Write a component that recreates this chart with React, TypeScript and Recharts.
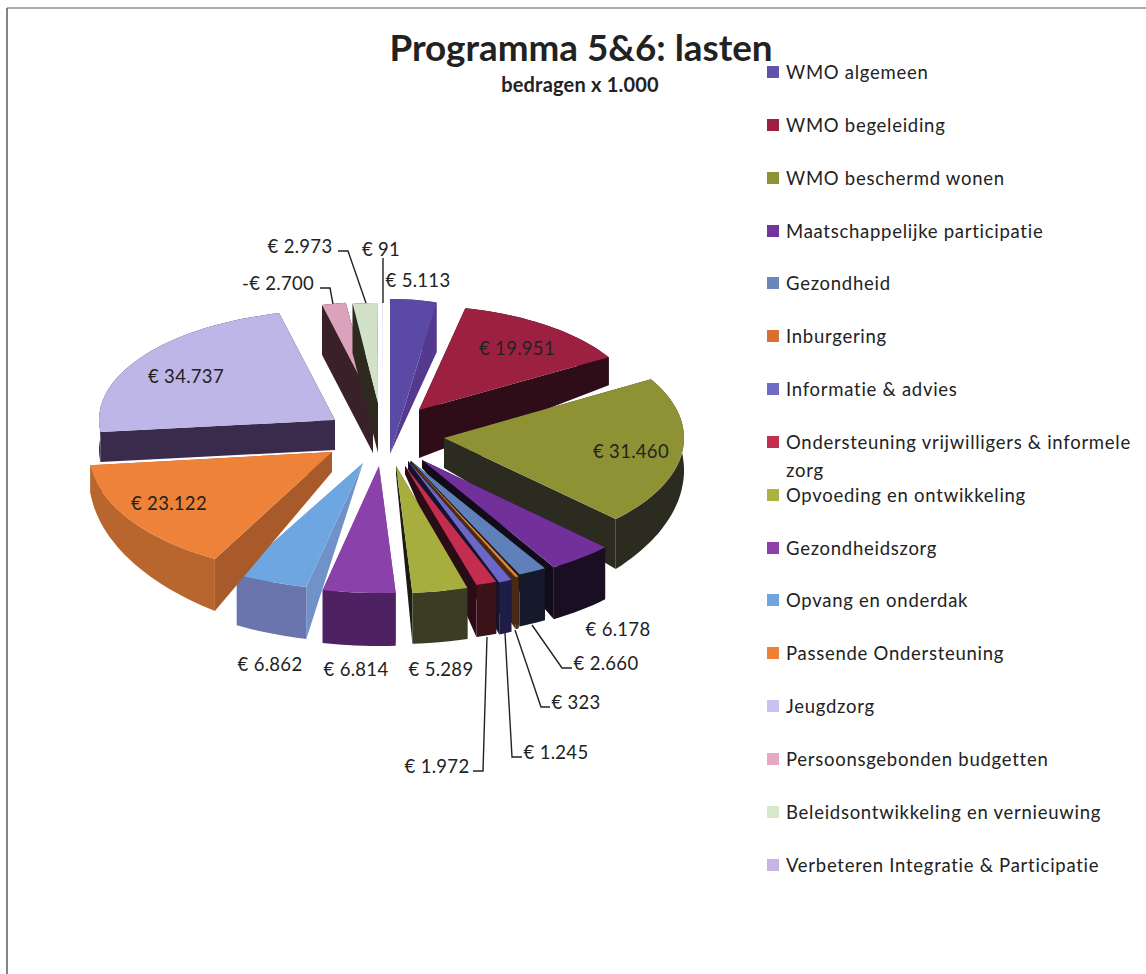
import React from 'react';
import { PieChart, Pie, Cell, Legend } from 'recharts';

const categories = [
  'WMO algemeen', 'WMO begeleiding', 'WMO beschermd wonen', 'Maatschappelijke participatie',
  'Gezondheid', 'Inburgering', 'Informatie & advies', 'Ondersteuning vrijwilligers & informele zorg',
  'Opvoeding en ontwikkeling', 'Gezondheidszorg', 'Opvang en onderdak', 'Passende Ondersteuning',
  'Jeugdzorg', 'Persoonsgebonden budgetten', 'Beleidsontwikkeling en vernieuwing',
  'Verbeteren Integratie & Participatie',
];
const amounts = [5113, 19951, 31460, 6178, 2660, 323, 1245, 1972, 5289, 6814, 6862, 23122, 34737, -2700, 2973, 91];

const topColors = ['#5a4aa6', '#9c2040', '#8f9234', '#71309a', '#5f80b8', '#e08030', '#6b66c8', '#c42c50', '#a8ae3e', '#8a42aa', '#6ea6e2', '#ee8238', '#bfb6e8', '#dca2bc', '#d2e2c8', '#e4dcf2'];
const wallColors = ['#54398f', '#2e0d18', '#2c2b20', '#1a0f22', '#141a2b', '#4a2a14', '#1f1d47', '#3a1218', '#3c3c24', '#4e2163', '#6a74ad', '#b8652e', '#3a2a4c', '#3a2028', '#2f2a20', '#cfc6e2'];
const sideColors = ['#54398f', '#2e0d18', '#2c2b20', '#140b1a', '#10141f', '#4a2a14', '#15132e', '#2a0d14', '#1c1c14', '#7a3a98', '#7092c8', '#a85a2a', '#3a2a4c', '#3a2028', '#2f2a20', '#cfc6e2'];
const legendColors = ['#6052a8', '#9c2040', '#8f9234', '#74359a', '#6a86ba', '#d8702f', '#6f6ac4', '#c42c50', '#aeb040', '#8a42aa', '#72a4de', '#f08038', '#c8c2ee', '#e6a8c0', '#d8e8cc', '#c8b4e2'];

// how each exploded slice sits on the page: tip x/y, radii, depth at tip, start and end corner
const sliceLayout = [
  [390, 454, 221, 155, 0, 50, 50],
  [419, 410, 220, 104, 48, 28, 28],
  [444, 438, 240, 116, 30, 20, 50],
  [422, 460, 256, 125, 8, 52, 52],
  [411, 461, 260, 125, 8, 52, 52],
  [410, 461, 260, 127, 8, 52, 52],
  [408, 461, 255, 130, 8, 52, 52],
  [405, 466, 255, 124, 8, 52, 52],
  [396, 466, 255, 127, 8, 51, 51],
  [379, 466, 260, 127, 0, 53, 53],
  [363, 463, 262, 127, 0, 52, 51],
  [332, 452, 243, 122, 20, 52, 28],
  [335, 420, 236, 110, 30, 30, 30],
  [373, 403, 215, 101, 50, 50, 50],
  [378, 403, 200, 100, 50, 50, 50],
  [383, 440, 200, 140, 0, 0, 0],
];

// label centre x/y, then leader line points if there is one
const labelLayout: { x: number; y: number; leader?: number[][] }[] = [
  { x: 418, y: 280 },
  { x: 517, y: 348 },
  { x: 631, y: 451 },
  { x: 618, y: 629 },
  { x: 606, y: 663, leader: [[532, 625], [562, 668], [572, 668]] },
  { x: 576, y: 702, leader: [[515, 630], [541, 707], [550, 707]] },
  { x: 556, y: 752, leader: [[505, 633], [512, 757], [522, 757]] },
  { x: 437, y: 766, leader: [[487, 637], [483, 771], [473, 771]] },
  { x: 441, y: 669 },
  { x: 356, y: 669 },
  { x: 270, y: 664 },
  { x: 169, y: 503 },
  { x: 186, y: 376 },
  { x: 278, y: 283, leader: [[320, 288], [330, 288], [333, 304]] },
  { x: 300, y: 246, leader: [[338, 251], [348, 251], [366, 303]] },
  { x: 381, y: 249, leader: [[383, 258], [383, 303]] },
];

const FONT = 'Lato, sans-serif';

const tableData = categories.map((name, idx) => ({
  name,
  idx,
  amount: amounts[idx],
  value: Math.abs(amounts[idx]),
}));

const formatEuro = (v: number) => {
  const s = Math.abs(v).toString().replace(/\B(?=(\d{3})+$)/g, '.');
  return (v < 0 ? '-€ ' : '€ ') + s;
};

const poly = (pts: number[][]) => pts.map((p) => p[0].toFixed(1) + ',' + p[1].toFixed(1)).join(' ');

const Slice3D = (props: any) => {
  const idx = props.payload?.idx ?? props.idx ?? 0;
  const [tx, ty, rx, ry, dTip, dStart, dEnd] = sliceLayout[idx];
  const a0 = ((90 - props.startAngle) * Math.PI) / 180;
  const a1 = ((90 - props.endAngle) * Math.PI) / 180;
  const steps = Math.max(2, Math.ceil(((a1 - a0) * 180) / Math.PI / 2));
  const rim: number[][] = [];
  const rimLow: number[][] = [];
  for (let i = 0; i <= steps; i++) {
    const t = a0 + ((a1 - a0) * i) / steps;
    const x = tx + rx * Math.sin(t);
    const y = ty - ry * Math.cos(t);
    rim.push([x, y]);
    rimLow.push([x, y + dStart + ((dEnd - dStart) * i) / steps]);
  }
  const tip = [tx, ty];
  const tipLow = [tx, ty + dTip];
  const first = rim[0];
  const last = rim[rim.length - 1];
  const outerWall = <polygon points={poly([...rim, ...rimLow.slice().reverse()])} fill={wallColors[idx]} />;
  const sides = (
    <>
      <polygon points={poly([tip, first, rimLow[0], tipLow])} fill={sideColors[idx]} />
      <polygon points={poly([tip, last, rimLow[rimLow.length - 1], tipLow])} fill={sideColors[idx]} />
    </>
  );
  const isBack = Math.cos((a0 + a1) / 2) > 0;
  return (
    <g>
      {isBack ? outerWall : sides}
      {isBack ? sides : outerWall}
      <polygon points={poly([tip, ...rim])} fill={topColors[idx]} />
    </g>
  );
};

const renderLabel = (props: any) => {
  const idx = props.payload?.idx ?? props.index ?? 0;
  const pos = labelLayout[idx];
  return (
    <g>
      {pos.leader && <polyline points={poly(pos.leader)} fill="none" stroke="#222" strokeWidth={1.4} />}
      <text x={pos.x} y={pos.y} textAnchor="middle" dominantBaseline="central" fontFamily={FONT} fontSize={18.5} letterSpacing={0.3} fill="#222">
        {formatEuro(amounts[idx])}
      </text>
    </g>
  );
};

const renderLegend = (props: any) => (
  <div style={{ fontFamily: FONT, fontSize: 18.5, color: '#222', letterSpacing: 0.73 }}>
    {categories.map((name, i) => (
      <div key={name} style={{ position: 'relative', height: 52.85, width: 370 }}>
        <div style={{ position: 'absolute', left: 0, top: 8, width: 12, height: 12, background: legendColors[i] }} />
        <div style={{ position: 'absolute', left: 19, top: 0, width: 350, lineHeight: '28px' }}>{name}</div>
      </div>
    ))}
  </div>
);

export default function App() {
  return (
    <div style={{ position: 'absolute', left: 0, top: 0 }}>
      <PieChart width={1146} height={974}>
        <line x1={7} y1={8} x2={7} y2={974} stroke="#333" strokeWidth={1.2} />
        <line x1={7} y1={8} x2={1146} y2={8} stroke="#555" strokeWidth={1} />
        <text x={581} y={47} textAnchor="middle" dominantBaseline="central" fontFamily={FONT} fontWeight={700} fontSize={36.8} fill="#222">
          Programma 5&6: lasten
        </text>
        <text x={580} y={84} textAnchor="middle" dominantBaseline="central" fontFamily={FONT} fontWeight={700} fontSize={20} letterSpacing={0.2} fill="#222">
          bedragen x 1.000
        </text>
        <Pie
          data={tableData}
          dataKey="value"
          nameKey="name"
          cx={383}
          cy={460}
          outerRadius={240}
          startAngle={90}
          endAngle={-270}
          stroke="none"
          shape={Slice3D}
          label={renderLabel}
          labelLine={false}
          isAnimationActive={false}
        >
          {tableData.map((d) => (
            <Cell key={d.name} fill={legendColors[d.idx]} />
          ))}
        </Pie>
        <Legend
          layout="vertical"
          align="right"
          verticalAlign="top"
          content={renderLegend}
          wrapperStyle={{ left: 767, top: 58, right: 'auto', width: 375 }}
        />
      </PieChart>
    </div>
  );
}
